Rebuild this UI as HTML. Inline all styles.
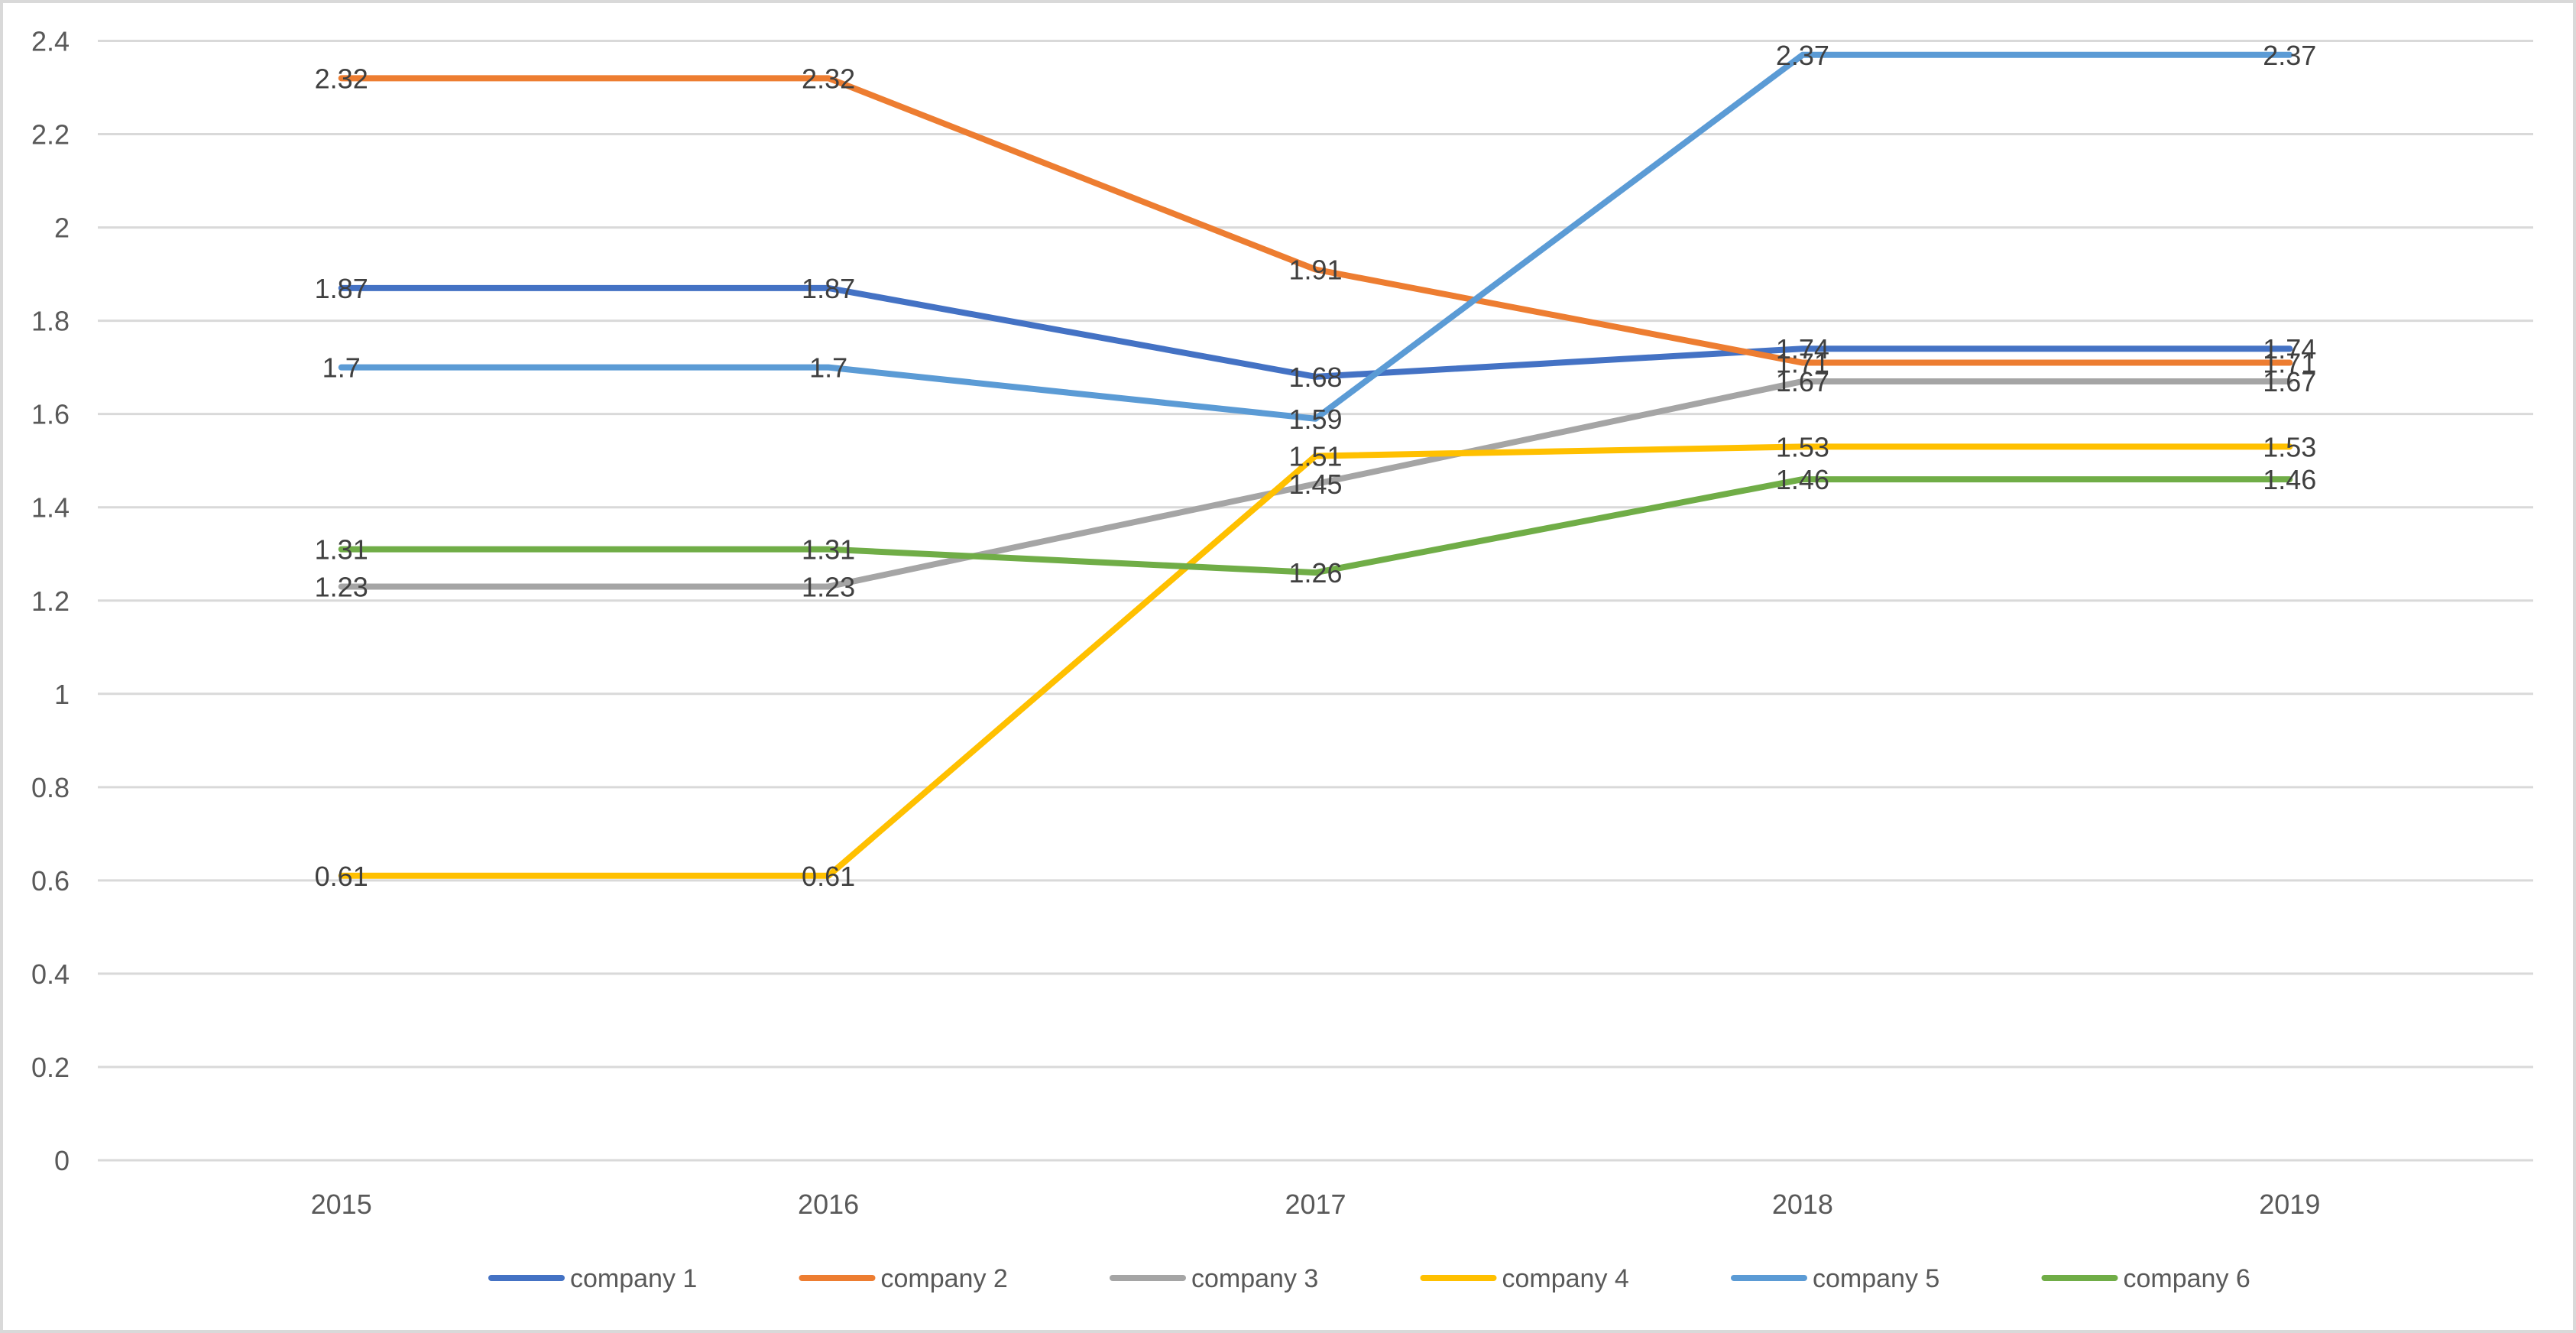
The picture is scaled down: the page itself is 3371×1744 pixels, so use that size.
<!DOCTYPE html>
<html><head><meta charset="utf-8"><style>
html,body{margin:0;padding:0;background:#fff;}
svg{display:block;font-family:"Liberation Sans",sans-serif;}
</style></head><body>
<svg id="chart" width="3371" height="1744" viewBox="0 0 3371 1744" xmlns="http://www.w3.org/2000/svg">
<rect x="2" y="2" width="3367" height="1740" fill="#fff" stroke="#d9d9d9" stroke-width="4"/>
<g id="grid"></g><g id="yticks"></g><g id="xticks"></g><g id="series"></g><g id="labels"></g><g id="legend"></g>
</svg>
<script>
const categories = ["2015","2016","2017","2018","2019"];
const seriesNames = ["company 1","company 2","company 3","company 4","company 5","company 6"];
const company1 = [1.87,1.87,1.68,1.74,1.74];
const company2 = [2.32,2.32,1.91,1.71,1.71];
const company3 = [1.23,1.23,1.45,1.67,1.67];
const company4 = [0.61,0.61,1.51,1.53,1.53];
const company5 = [1.7,1.7,1.59,2.37,2.37];
const company6 = [1.31,1.31,1.26,1.46,1.46];
const yTicks = [0,0.2,0.4,0.6,0.8,1,1.2,1.4,1.6,1.8,2,2.2,2.4];
const yTickLabels = ["0","0.2","0.4","0.6","0.8","1","1.2","1.4","1.6","1.8","2","2.2","2.4"];

const allSeries=[company1,company2,company3,company4,company5,company6];
const colors=["#4472C4","#ED7D31","#A5A5A5","#FFC000","#5B9BD5","#70AD47"];
const NS="http://www.w3.org/2000/svg";
const L=128,R=3315,T=53.5,B=1518,yMax=2.4;
const y=v=>B-(v/yMax)*(B-T);
const bw=(R-L)/categories.length;
const x=i=>L+bw*(i+0.5);
function mk(tag,attrs,parent,text){const e=document.createElementNS(NS,tag);for(const k in attrs)e.setAttribute(k,attrs[k]);if(text!==undefined)e.textContent=text;document.getElementById(parent).appendChild(e);return e;}

yTicks.forEach((t,i)=>{
  const g=mk('line',{x1:L,x2:R,y1:y(t),y2:y(t),stroke:'#d9d9d9','stroke-width':3},'grid');
  
  
  const tx=mk('text',{x:91,y:y(t)+13,'text-anchor':'end','font-size':36,fill:'#595959'},'yticks',yTickLabels[i]);
  
  
});
categories.forEach((c,i)=>{
  const tx=mk('text',{x:x(i),y:1588,'text-anchor':'middle','font-size':36,fill:'#595959'},'xticks',c);
  
  
});
allSeries.forEach((s,si)=>{
  const pts=s.map((v,i)=>x(i)+','+y(v)).join(' ');
  const pl=mk('polyline',{points:pts,fill:'none',stroke:colors[si],'stroke-width':8,'stroke-linejoin':'round','stroke-linecap':'round'},'series');
  
  
});
allSeries.forEach((s,si)=>{
  s.forEach((v,i)=>{
    const tx=mk('text',{x:x(i),y:y(v)+13,'text-anchor':'middle','font-size':36,fill:'#404040'},'labels',String(v));
    
    
  });
});
seriesNames.forEach((n,i)=>{
  const x0=639+i*406.5;
  const ln=mk('line',{x1:x0+4,x2:x0+96,y1:1672,y2:1672,stroke:colors[i],'stroke-width':8,'stroke-linecap':'round'},'legend');
  
  
  const tx=mk('text',{x:x0+107,y:1684,'font-size':34,fill:'#595959'},'legend',n);
  
  
});
</script>
</body></html>
